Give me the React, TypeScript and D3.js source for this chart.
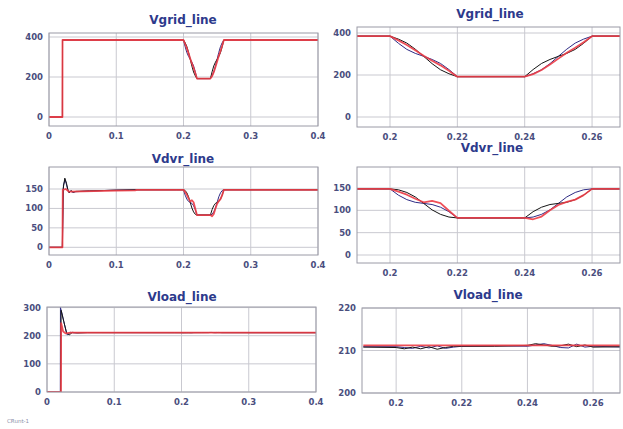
import React from 'react';
import * as d3 from 'd3';

type Pt = [number, number];

// ---------- Tick values ----------
const xTicksFull = [0, 0.1, 0.2, 0.3, 0.4];
const xTicksZoom = [0.2, 0.22, 0.24, 0.26];
const yTicksVgrid = [0, 200, 400];
const yTicksVdvr = [0, 50, 100, 150];
const yTicksVloadFull = [0, 100, 200, 300];
const yTicksVloadZoom = [200, 210, 220];
const titles = ['Vgrid_line', 'Vgrid_line', 'Vdvr_line', 'Vdvr_line', 'Vload_line', 'Vload_line'];

// ---------- Vgrid ----------
const vgridStart: Pt[] = [[0, 0], [0.02, 0], [0.0201, 385], [0.19, 385]];
const vgridDipA: Pt[] = [[0.2, 385], [0.2025, 371], [0.205, 352], [0.2075, 323], [0.21, 289], [0.2125, 254], [0.215, 225], [0.2175, 206], [0.22, 192], [0.24, 192], [0.2425, 226], [0.245, 255], [0.2475, 274], [0.25, 289], [0.2525, 303], [0.255, 322], [0.2575, 351], [0.26, 385]];
const vgridDipB: Pt[] = [[0.2, 385], [0.2025, 351], [0.205, 322], [0.2075, 303], [0.21, 289], [0.2125, 274], [0.215, 255], [0.2175, 226], [0.22, 192], [0.24, 192], [0.2425, 206], [0.245, 225], [0.2475, 254], [0.25, 289], [0.2525, 323], [0.255, 352], [0.2575, 371], [0.26, 385]];
const vgridDipR: Pt[] = [[0.2, 385], [0.2025, 365], [0.205, 343], [0.2075, 318], [0.21, 292], [0.2125, 268], [0.215, 246], [0.2175, 220], [0.22, 192], [0.24, 192], [0.2425, 204], [0.245, 224], [0.2475, 250], [0.25, 278], [0.2525, 306], [0.255, 330], [0.2575, 356], [0.26, 385]];
const vgridPre: Pt[] = [[0.19, 385]];
const vgridPostZoom: Pt[] = [[0.27, 385]];
const vgridPostFull: Pt[] = [[0.4, 385]];

// ---------- Vdvr ----------
const vdvrStartA: Pt[] = [[0, 0], [0.0198, 0], [0.021, 150], [0.0235, 178], [0.026, 165], [0.028, 148], [0.03, 140], [0.033, 146], [0.036, 142], [0.04, 144], [0.06, 145], [0.1, 147], [0.13, 148], [0.19, 148]];
const vdvrStartB: Pt[] = [[0, 0], [0.0199, 0], [0.0215, 160], [0.024, 174], [0.0265, 158], [0.029, 142], [0.032, 145], [0.035, 141], [0.04, 143], [0.06, 145], [0.1, 147], [0.13, 148], [0.19, 148]];
const vdvrStartR: Pt[] = [[0, 0], [0.02, 0], [0.0205, 148], [0.025, 150], [0.03, 143], [0.05, 144], [0.1, 146], [0.128, 146.5], [0.131, 148], [0.19, 148]];
const vdvrDipA: Pt[] = [[0.2, 148], [0.2025, 146], [0.205, 140], [0.2075, 130], [0.21, 115.5], [0.2125, 101], [0.215, 91], [0.2175, 85], [0.22, 83], [0.24, 83], [0.2425, 97], [0.245, 107], [0.2475, 113], [0.25, 115.5], [0.2525, 118], [0.255, 124], [0.2575, 134], [0.26, 148]];
const vdvrDipB: Pt[] = [[0.2, 148], [0.2025, 134], [0.205, 124], [0.2075, 118], [0.21, 115.5], [0.2125, 113], [0.215, 107], [0.2175, 97], [0.22, 83], [0.24, 83], [0.2425, 85], [0.245, 91], [0.2475, 101], [0.25, 115.5], [0.2525, 130], [0.255, 140], [0.2575, 146], [0.26, 148]];
const vdvrDipR: Pt[] = [[0.2, 148], [0.2025, 142], [0.205, 135], [0.2075, 126], [0.21, 118], [0.2125, 121], [0.215, 116], [0.2175, 99], [0.22, 83], [0.24, 83], [0.2425, 80], [0.245, 86], [0.2475, 100], [0.25, 112], [0.2525, 119], [0.255, 124], [0.2575, 134], [0.26, 148]];
const vdvrPre: Pt[] = [[0.19, 148]];
const vdvrPostZoom: Pt[] = [[0.27, 148]];
const vdvrPostFull: Pt[] = [[0.4, 148]];

// ---------- Vload ----------
const vloadStartA: Pt[] = [[0, 0], [0.0203, 0], [0.021, 290], [0.025, 250], [0.029, 210], [0.033, 203], [0.038, 212], [0.045, 210], [0.06, 211], [0.19, 210.8]];
const vloadStartB: Pt[] = [[0, 0], [0.0198, 0], [0.02, 300], [0.022, 282], [0.026, 240], [0.03, 203], [0.035, 212], [0.04, 210], [0.06, 211], [0.19, 210.8]];
const vloadStartR: Pt[] = [[0, 0], [0.0208, 0], [0.021, 245], [0.024, 215], [0.028, 208], [0.035, 211.2], [0.19, 211.2]];
const vloadDipA: Pt[] = [[0.2, 210.7], [0.2025, 210.4], [0.205, 210.8], [0.2075, 210.4], [0.21, 210.9], [0.2125, 210.3], [0.215, 210.7], [0.2175, 211.0], [0.22, 211.0], [0.23, 211.0], [0.24, 211.2], [0.2425, 211.6], [0.245, 211.3], [0.2475, 211.0], [0.25, 211.1], [0.2525, 211.5], [0.255, 210.9], [0.2575, 211.3], [0.26, 210.8]];
const vloadDipB: Pt[] = [[0.2, 210.9], [0.2025, 210.7], [0.205, 210.5], [0.2075, 211.0], [0.21, 210.6], [0.2125, 211.1], [0.215, 210.5], [0.2175, 210.8], [0.22, 211.0], [0.23, 211.1], [0.24, 211.0], [0.2425, 211.3], [0.245, 211.6], [0.2475, 211.2], [0.25, 210.7], [0.2525, 210.6], [0.255, 211.5], [0.2575, 210.8], [0.26, 211.0]];
const vloadDipR: Pt[] = [[0.2, 211.2], [0.26, 211.2]];
const vloadPreA: Pt[] = [[0.19, 210.8]];
const vloadPreB: Pt[] = [[0.19, 210.9]];
const vloadPreR: Pt[] = [[0.19, 211.2]];
const vloadPostA: Pt[] = [[0.27, 210.9]];
const vloadPostB: Pt[] = [[0.27, 210.8]];
const vloadPostR: Pt[] = [[0.27, 211.2]];
const vloadEndA: Pt[] = [[0.4, 210.9]];
const vloadEndB: Pt[] = [[0.4, 210.8]];
const vloadEndR: Pt[] = [[0.4, 211.2]];

const COLORS = { A: '#151515', B: '#2f2c85', R: '#ec3c46' };

type Series = { a: Pt[]; b: Pt[]; r: Pt[] };
type Panel = {
  title: string;
  box: { l: number; r: number; t: number; b: number };
  xd: [number, number];
  yd: [number, number];
  xt: number[];
  yt: number[];
  titleX: number;
  titleY: number;
  data: Series;
  fmtX: (v: number) => string;
};

const fmt = (v: number) => (v === 0 ? '0' : String(v));

const panels: Panel[] = [
  {
    title: titles[0], box: { l: 49, r: 318, t: 33, b: 126 }, xd: [0, 0.4], yd: [-45, 420],
    xt: xTicksFull, yt: yTicksVgrid, titleX: 183, titleY: 24, fmtX: fmt,
    data: {
      a: [...vgridStart, ...vgridDipA, ...vgridPostFull],
      b: [...vgridStart, ...vgridDipB, ...vgridPostFull],
      r: [...vgridStart, ...vgridDipR, ...vgridPostFull],
    },
  },
  {
    title: titles[1], box: { l: 357, r: 620, t: 27, b: 127 }, xd: [0.1902, 0.2683], yd: [-47.6, 428.6],
    xt: xTicksZoom, yt: yTicksVgrid, titleX: 490, titleY: 18, fmtX: fmt,
    data: {
      a: [...vgridPre, ...vgridDipA, ...vgridPostZoom],
      b: [...vgridPre, ...vgridDipB, ...vgridPostZoom],
      r: [...vgridPre, ...vgridDipR, ...vgridPostZoom],
    },
  },
  {
    title: titles[2], box: { l: 49, r: 318, t: 167, b: 255 }, xd: [0, 0.4], yd: [-19.8, 206.6],
    xt: xTicksFull, yt: yTicksVdvr, titleX: 183, titleY: 163, fmtX: fmt,
    data: {
      a: [...vdvrStartA, ...vdvrDipA, ...vdvrPostFull],
      b: [...vdvrStartB, ...vdvrDipB, ...vdvrPostFull],
      r: [...vdvrStartR, ...vdvrDipR, ...vdvrPostFull],
    },
  },
  {
    title: titles[3], box: { l: 357, r: 620, t: 167, b: 263 }, xd: [0.1902, 0.2683], yd: [-17.9, 197],
    xt: xTicksZoom, yt: yTicksVdvr, titleX: 492, titleY: 152, fmtX: fmt,
    data: {
      a: [...vdvrPre, ...vdvrDipA, ...vdvrPostZoom],
      b: [...vdvrPre, ...vdvrDipB, ...vdvrPostZoom],
      r: [...vdvrPre, ...vdvrDipR, ...vdvrPostZoom],
    },
  },
  {
    title: titles[4], box: { l: 47, r: 316, t: 307, b: 392 }, xd: [0, 0.4], yd: [0, 302],
    xt: xTicksFull, yt: yTicksVloadFull, titleX: 182, titleY: 301, fmtX: fmt,
    data: {
      a: [...vloadStartA, ...vloadDipA, ...vloadEndA],
      b: [...vloadStartB, ...vloadDipB, ...vloadEndB],
      r: [...vloadStartR, ...vloadDipR, ...vloadEndR],
    },
  },
  {
    title: titles[5], box: { l: 362, r: 620, t: 308, b: 393 }, xd: [0.1896, 0.2682], yd: [200, 220],
    xt: xTicksZoom, yt: yTicksVloadZoom, titleX: 488, titleY: 299, fmtX: fmt,
    data: {
      a: [...vloadPreA, ...vloadDipA, ...vloadPostA],
      b: [...vloadPreB, ...vloadDipB, ...vloadPostB],
      r: [...vloadPreR, ...vloadDipR, ...vloadPostR],
    },
  },
];

const FONT = "'DejaVu Sans', Verdana, sans-serif";

function PanelView({ p, idx }: { p: Panel; idx: number }) {
  const x = d3.scaleLinear().domain(p.xd).range([p.box.l, p.box.r]);
  const y = d3.scaleLinear().domain(p.yd).range([p.box.b, p.box.t]);
  const line = d3
    .line<Pt>()
    .x((d) => x(d[0]))
    .y((d) => y(d[1]))
    .curve(d3.curveLinear);
  const clipId = `clip-${idx}`;
  const w = p.box.r - p.box.l;
  const h = p.box.b - p.box.t;
  return (
    <g>
      <defs>
        <clipPath id={clipId}>
          <rect x={p.box.l} y={p.box.t} width={w} height={h} />
        </clipPath>
      </defs>
      <rect x={p.box.l} y={p.box.t} width={w} height={h} fill="#ffffff" />
      {p.xt.map((t) => (
        <line key={'gx' + t} x1={x(t)} x2={x(t)} y1={p.box.t} y2={p.box.b} stroke="#c9c9d0" strokeWidth={1} />
      ))}
      {p.yt.map((t) => (
        <line key={'gy' + t} x1={p.box.l} x2={p.box.r} y1={y(t)} y2={y(t)} stroke="#c9c9d0" strokeWidth={1} />
      ))}
      <g clipPath={`url(#${clipId})`} fill="none" strokeLinejoin="round">
        <path d={line(p.data.b) || ''} stroke={COLORS.B} strokeWidth={1} />
        <path d={line(p.data.a) || ''} stroke={COLORS.A} strokeWidth={1} />
        <path d={line(p.data.r) || ''} stroke={COLORS.R} strokeWidth={1.8} strokeOpacity={0.9} />
      </g>
      <rect x={p.box.l} y={p.box.t} width={w} height={h} fill="none" stroke="#9a9aa6" strokeWidth={1} />
      {p.xt.map((t) => (
        <text key={'tx' + t} x={x(t)} y={p.box.b + 13} textAnchor="middle" fontFamily={FONT} fontWeight="bold" fontSize={8.5} fill="#4a4e7e">
          {p.fmtX(t)}
        </text>
      ))}
      {p.yt.map((t) => (
        <text key={'ty' + t} x={p.box.l - 6} y={y(t) + 3} textAnchor="end" fontFamily={FONT} fontWeight="bold" fontSize={8.5} fill="#4a4e7e">
          {String(t)}
        </text>
      ))}
      <text x={p.titleX} y={p.titleY} textAnchor="middle" fontFamily={FONT} fontWeight="bold" fontSize={12} fill="#2d3a8c">
        {p.title}
      </text>
    </g>
  );
}

export default function App() {
  return (
    <svg
      width={623}
      height={429}
      viewBox="0 0 623 429"
      style={{ position: 'absolute', left: 0, top: 0, background: '#ffffff' }}
    >
      <rect x={0} y={0} width={623} height={429} fill="#ffffff" />
      {panels.map((p, i) => (
        <PanelView key={i} p={p} idx={i} />
      ))}
      <text x={7} y={423} fontFamily={FONT} fontSize={5.5} fill="#8a8fa8">
        CRunt-1
      </text>
    </svg>
  );
}
